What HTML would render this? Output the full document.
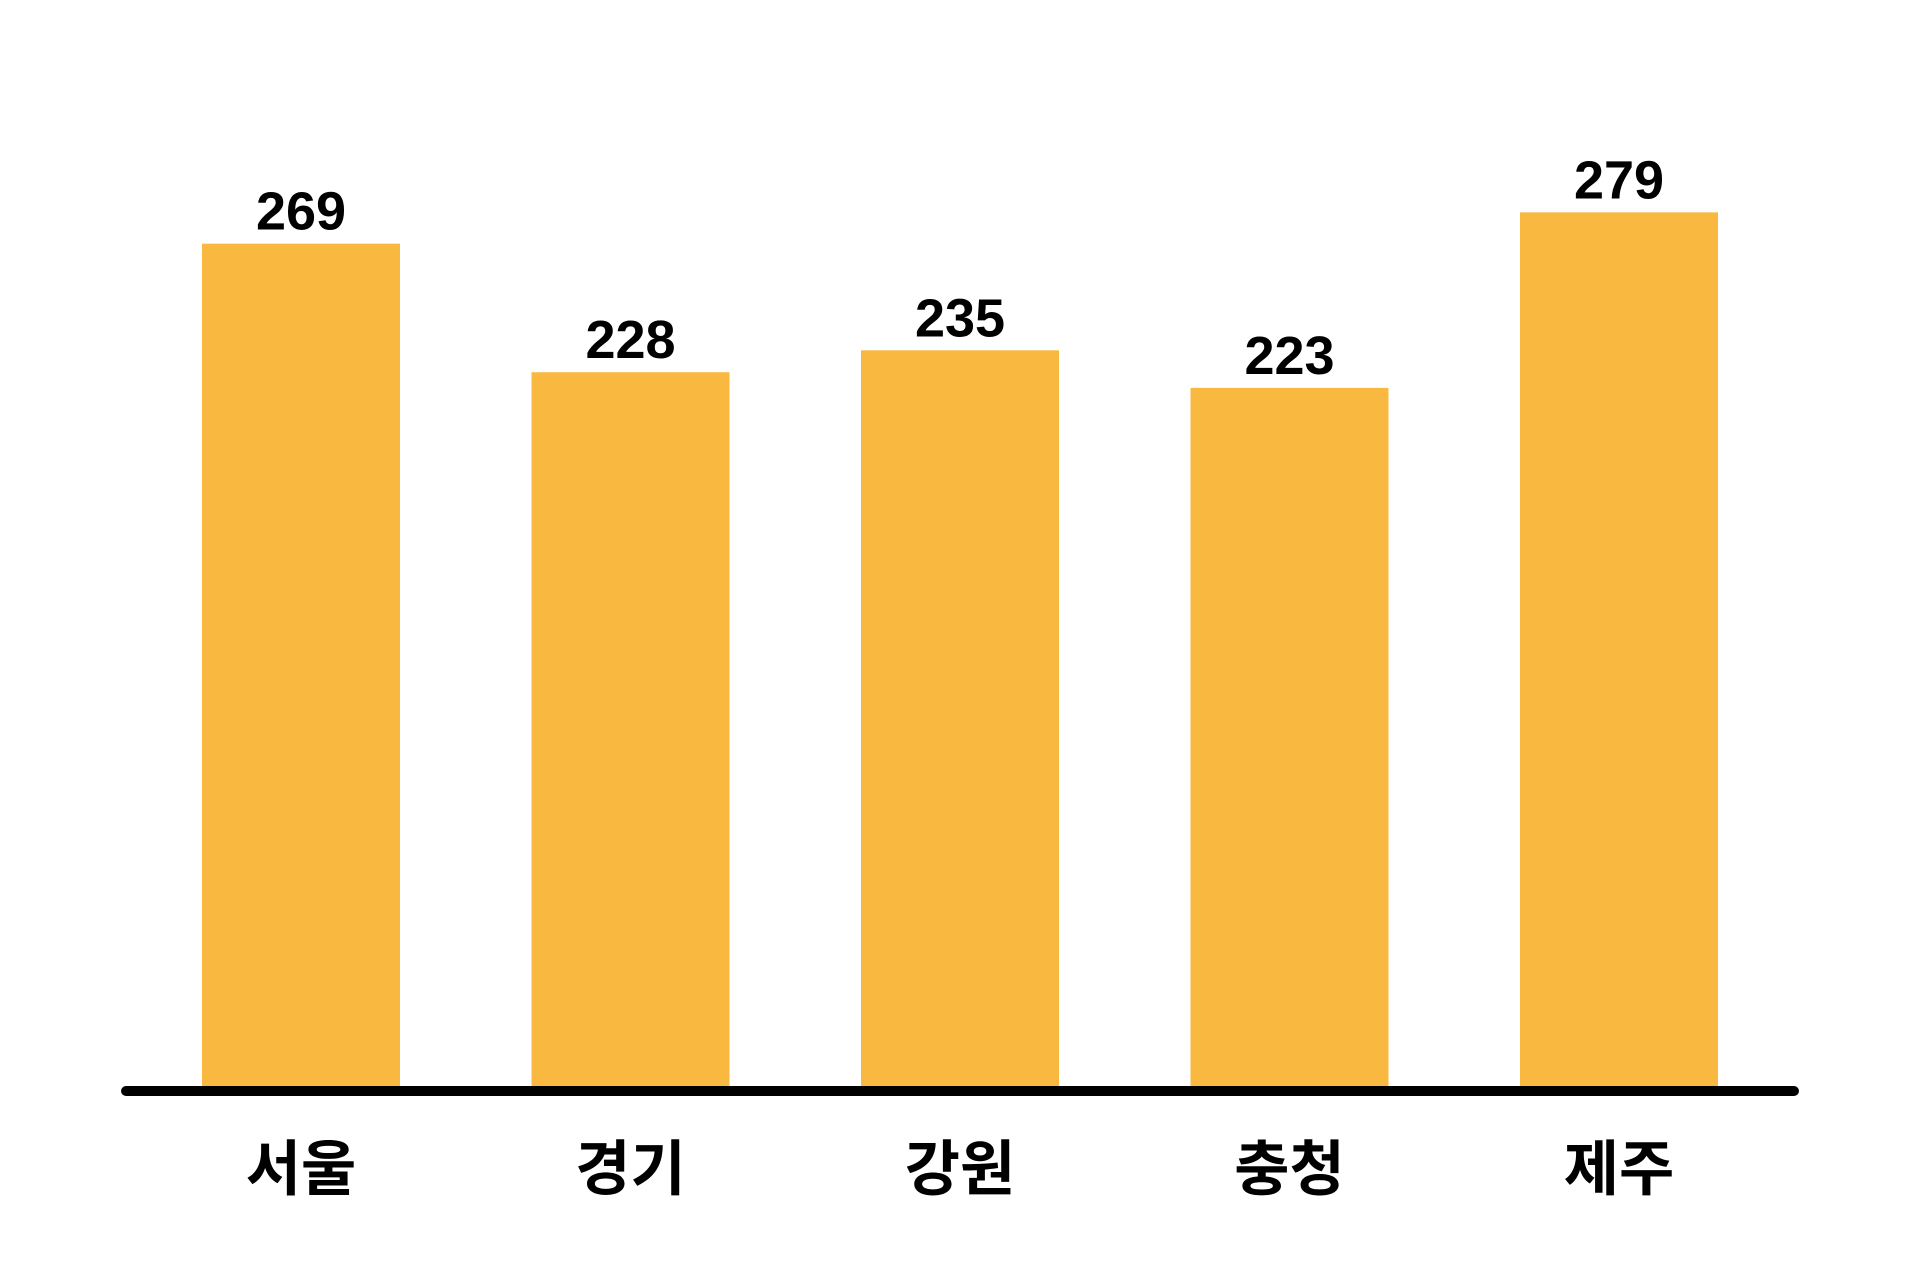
<!DOCTYPE html>
<html><head><meta charset="utf-8">
<style>
html,body{margin:0;padding:0;background:#fff;}
svg{display:block;}
text{font-family:"Liberation Sans","Noto Sans CJK KR",sans-serif;font-weight:bold;fill:#000;}
</style></head>
<body>
<svg id="chart" width="1920" height="1280" viewBox="0 0 1920 1280" xmlns="http://www.w3.org/2000/svg"></svg>
<script>
const categories = ["서울","경기","강원","충청","제주"];
const values = [269,228,235,223,279];

const svg = document.getElementById('chart');
const NS = 'http://www.w3.org/2000/svg';
const baseY = 1087, pxPerUnit = 3.135;
const firstX = 202, step = 329.5, barW = 198;
function xPos(i){ return firstX + i*step; }
function yPos(v){ return baseY - v*pxPerUnit; }

categories.forEach((c,i)=>{
  const v = values[i];
  const r = document.createElementNS(NS,'rect');
  r.setAttribute('x', xPos(i));
  r.setAttribute('y', yPos(v));
  r.setAttribute('width', barW);
  r.setAttribute('height', baseY - yPos(v) + 2);
  r.setAttribute('fill', '#F9B840');
  
  
  svg.appendChild(r);

  const t = document.createElementNS(NS,'text');
  t.setAttribute('x', xPos(i) + barW/2);
  t.setAttribute('y', yPos(v) - 14);
  t.setAttribute('text-anchor', 'middle');
  t.setAttribute('font-size', '54');
  t.textContent = v;
  
  
  svg.appendChild(t);

  const l = document.createElementNS(NS,'text');
  l.setAttribute('x', xPos(i) + barW/2);
  l.setAttribute('y', 1190);
  l.setAttribute('text-anchor', 'middle');
  l.setAttribute('font-size', '60');
  l.textContent = c;
  
  
  svg.appendChild(l);
});

const axis = document.createElementNS(NS,'line');
axis.setAttribute('x1', 126); axis.setAttribute('x2', 1794);
axis.setAttribute('y1', 1091); axis.setAttribute('y2', 1091);
axis.setAttribute('stroke', '#000');
axis.setAttribute('stroke-width', 10);
axis.setAttribute('stroke-linecap', 'round');


svg.appendChild(axis);
</script>
</body></html>
